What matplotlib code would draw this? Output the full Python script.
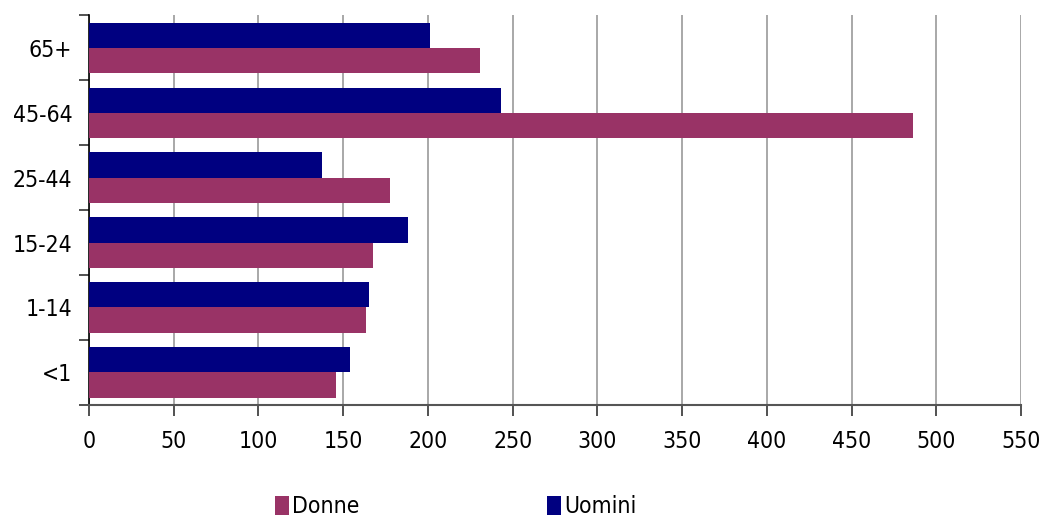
import numpy as np
import matplotlib.pyplot as plt

plt.rcParams['font.family'] = 'DejaVu Sans'
plt.rcParams['font.stretch'] = 'condensed'

categories = ['<1', '1-14', '15-24', '25-44', '45-64', '65+']
donne = [146, 163.5, 167.5, 177.5, 486, 231]
uomini = [154, 165, 188, 137.5, 243, 201]
xticks = list(range(0, 551, 50))

fig = plt.figure(figsize=(10.41, 5.19), dpi=100)
ax = fig.add_axes([0.0855, 0.2197, 0.8953, 0.7513])

y = np.arange(len(categories))
h = 0.385
ax.barh(y - h / 2, donne, height=h, color='#993366', label='Donne', zorder=3)
ax.barh(y + h / 2, uomini, height=h, color='#000080', label='Uomini', zorder=3)

ax.set_xlim(0, 550)
ax.set_ylim(-0.5, len(categories) - 0.5)
ax.set_xticks(xticks)
ax.set_yticks(y)
ax.set_yticklabels(categories)
ax.set_yticks(np.arange(-0.5, len(categories), 1), minor=True)
ax.tick_params(axis='y', which='major', length=0, pad=12, labelsize=16.5)
ax.tick_params(axis='y', which='minor', length=7, width=1.2, color='#333333')
ax.tick_params(axis='x', length=8, width=1.2, color='#333333', pad=10, labelsize=16.5)
ax.grid(axis='x', color='#999999', linewidth=1.2, zorder=0)

for s in ['top', 'right']:
    ax.spines[s].set_visible(False)
ax.spines['left'].set_color('black')
ax.spines['left'].set_linewidth(1.2)
ax.spines['bottom'].set_color('#555555')
ax.spines['bottom'].set_linewidth(1.5)

fig.legend(loc='lower center', bbox_to_anchor=(0.438, -0.038), ncol=2, frameon=False,
           fontsize=16.5, handlelength=0.6, handleheight=0.9, handletextpad=0.15,
           columnspacing=8.2)

fig.savefig('out.png', dpi=100)
